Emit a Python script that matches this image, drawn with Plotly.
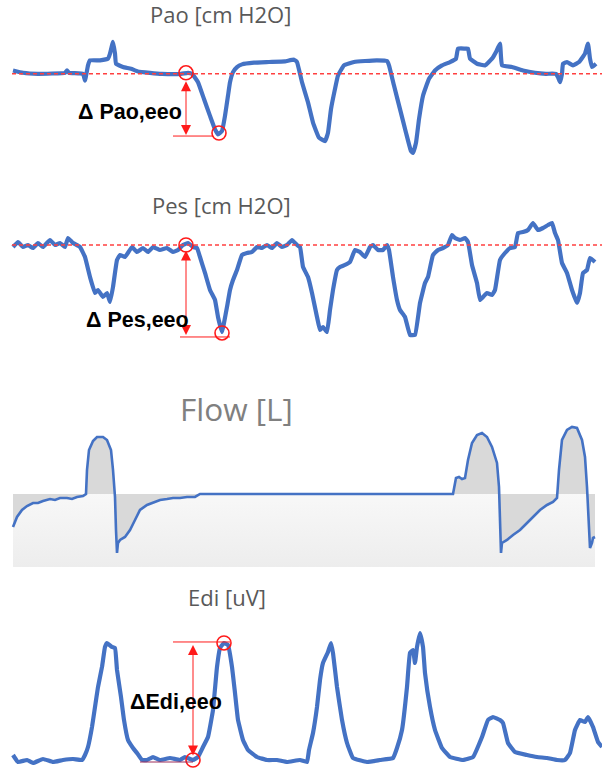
import plotly.graph_objects as go

# ---------------- data (time in samples, values in signal units) ----------------
t_pao = [13, 23, 38, 65, 67, 69, 83, 85, 88, 90, 100, 108, 110, 113, 115, 116, 123, 131, 138, 150,
         162, 181, 188, 192, 198, 204, 210, 215, 218, 222, 225, 228, 230, 233, 237, 242, 254, 269, 285,
         294, 297, 302, 308, 313, 319, 325, 328, 331, 335, 338, 344, 354, 365, 377, 387, 389, 394, 400,
         406, 411, 413, 416, 419, 423, 429, 435, 442, 450, 456, 458, 465, 468, 470, 477, 485, 492, 496,
         500, 501, 502, 512, 523, 535, 546, 556, 558, 560, 562, 563, 567, 573, 579, 585, 588, 590, 592, 596]
v_pao = [0.5, 0.15, 0, 0.15, 0.5, 0.15, 0, -1, 1.25, 2, 2, 2.25, 3, 4.75, 3, 1.5, 1, 0.75, 0.35, 0.15,
         0, 0, 0.15, 0, -1.25, -3.75, -6.25, -8.25, -9, -8.5, -6.25, -3.25, -1.25, 0.25, 1, 1.4, 1.65, 1.75, 1.85,
         2.1, 1.75, -1.25, -4.25, -7.25, -9.5, -10, -8.75, -5.25, -2.25, -0.25, 1.25, 1.75, 1.9, 2, 1.9, 1.25, -1.75, -5.25,
         -8.75, -11.5, -11.75, -10.25, -6.75, -3.25, -0.75, 0.5, 1.25, 1.75, 2.25, 3.75, 3.75, 3.75, 2.25, 1.5, 1.25, 2.25, 3.25,
         4.5, 2.5, 1.25, 1, 0.5, 0.15, 0, 0, -0.5, -1.25, 0, 1.5, 1.75, 1.25, 1.75, 3, 4.5, 2.25, 1, 1.5]

t_pes = [13, 18, 23, 28, 33, 38, 43, 50, 55, 60, 65, 68, 73, 80, 85, 90, 95, 98, 103, 107, 110, 113, 117,
         120, 125, 132, 137, 143, 148, 153, 160, 167, 173, 178, 183, 188, 193, 197, 200, 205, 210, 215, 218,
         222, 224, 227, 230, 233, 237, 242, 247, 252, 257, 262, 267, 272, 277, 282, 287, 292, 297, 300, 303,
         308, 312, 317, 320, 323, 327, 330, 333, 337, 340, 345, 350, 355, 360, 365, 370, 373, 378, 383, 387,
         389, 393, 397, 400, 405, 410, 415, 420, 425, 428, 433, 438, 443, 448, 452, 455, 460, 465, 468, 472,
         477, 480, 483, 487, 492, 495, 500, 505, 510, 515, 518, 523, 528, 533, 538, 543, 548, 552, 555, 558,
         562, 567, 572, 577, 580, 583, 587, 590, 595]
v_pes = [-0.4, 0.6, -0.4, 0, -0.6, 0.4, -0.4, 1.0, 0, 0.4, -0.4, 1.4, 0.4, -0.4, -2.4, -6.4, -9.6, -9.0, -10.4, -9.6, -11.4, -8.4, -3.0,
         -2.0, -2.4, -0.4, -1.4, -0.6, -1.4, -0.4, -1.0, -0.6, -1.4, -1.0, 0, 0.4, -0.4, -0.6, -2.4, -5.6, -9.0, -11.0, -14.4,
         -17.4, -15.6, -12.4, -9.0, -7.0, -5.0, -2.0, -1.6, -1.4, -0.4, -0.6, 0, -0.6, 0.4, -0.4, 0, 1.0, 0, -0.4, -4.4,
         -6.4, -9.6, -14.4, -17.0, -16.4, -17.4, -13.0, -9.0, -5.0, -4.4, -4.0, -3.4, -1.0, -1.4, -2.4, -0.4, 0, -1.0, -1.0, 0,
         -1.0, -6.4, -11.0, -13.0, -14.4, -18.0, -18.0, -11.6, -7.6, -6.4, -2.0, -1.0, -0.6, 0, 2.0, 1.4, 1.0, 1.4, 0.6, -4.0,
         -7.6, -11.0, -10.4, -9.6, -10.0, -9.0, -3.0, -1.6, -0.6, -0.4, 2.4, 2.6, 3.0, 4.4, 3.0, 3.4, 4.0, 4.4, 2.4, 1.0,
         -3.6, -5.6, -9.0, -11.6, -9.6, -5.6, -5.0, -2.6, -3.4]

t_flow = [13, 17, 22, 27, 33, 38, 43, 50, 55, 60, 67, 72, 77, 83, 86, 87, 89, 93, 97, 103, 107, 111, 113,
          115, 116, 117, 118, 120, 125, 130, 135, 140, 147, 153, 160, 167, 173, 180, 187, 195, 200, 453,
          454, 456, 459, 462, 465, 468, 472, 477, 482, 487, 492, 497, 499, 500, 501, 502, 507, 513, 520,
          527, 533, 540, 547, 553, 557, 559, 562, 567, 572, 577, 582, 585, 587, 589, 590, 592, 593, 595]
v_flow = [-0.66, -0.46, -0.32, -0.24, -0.18, -0.18, -0.14, -0.10, -0.12, -0.08, -0.08, -0.10, -0.06, -0.04, 0, 0.48, 0.88, 1.06, 1.14, 1.14, 1.08, 0.88, 0.48,
          -0.06, -0.72, -1.18, -0.98, -0.92, -0.86, -0.72, -0.52, -0.32, -0.22, -0.18, -0.12, -0.10, -0.08, -0.08, -0.06, -0.06, 0, 0,
          0.14, 0.32, 0.34, 0.30, 0.32, 0.68, 1.02, 1.18, 1.22, 1.14, 0.94, 0.62, 0.14, -0.52, -1.18, -0.98, -0.92, -0.82, -0.72,
          -0.58, -0.46, -0.32, -0.22, -0.16, -0.08, 0.48, 1.08, 1.28, 1.34, 1.32, 1.08, 0.74, 0.14, -0.52, -1.08, -0.98, -0.88, -0.86]

t_edi = [13, 18, 27, 33, 43, 53, 63, 73, 82, 85, 88, 92, 95, 98, 102, 105, 107, 112, 115, 117, 121, 124, 128,
         133, 137, 142, 147, 153, 160, 170, 180, 185, 193, 198, 203, 208, 213, 217, 220, 224, 228, 232, 235,
         238, 243, 248, 257, 267, 277, 287, 300, 307, 309, 313, 317, 320, 323, 328, 331, 333, 337, 342, 347,
         353, 367, 380, 393, 397, 402, 407, 410, 413, 415, 417, 420, 423, 425, 430, 435, 442, 450, 463, 473,
         482, 488, 493, 500, 503, 508, 515, 527, 537, 547, 557, 565, 570, 575, 580, 585, 588, 593, 598, 602]
v_edi = [1.0, -0.4, 0, -0.6, 0.2, -0.4, 0, 0.2, 0, 1.0, 2.6, 6.6, 10.6, 14.6, 18.6, 22.6, 23.4, 22.6, 22.4, 18.0, 12.6, 8.0, 4.0,
         2.4, 1.4, 0, 0, 0.6, 0, 0.4, 0, 0.6, 0, 0.6, 2.6, 4.6, 10.0, 18.6, 22.4, 23.4, 23.0, 18.6, 13.4,
         8.0, 4.0, 2.0, 0.6, 0, 0, -0.4, 0, -0.4, 2.0, 5.4, 10.6, 16.0, 19.4, 21.6, 23.4, 21.4, 14.6, 8.0, 3.4,
         0.4, -0.4, 0, 0.4, 2.4, 6.0, 14.6, 21.4, 22.0, 19.4, 22.6, 25.4, 22.6, 17.4, 10.6, 6.0, 2.4, 0.6, 0, 0.6,
         4.6, 8.0, 8.6, 8.0, 7.4, 3.4, 1.6, 1.0, 0.6, 0.4, 0, 0, 1.4, 6.0, 8.0, 7.6, 8.6, 6.6, 3.6, 2.6]

titles = ["Pao [cm H2O]", "Pes [cm H2O]", "Flow [L]", "Edi [uV]"]
labels = ["\u0394 Pao,eeo", "\u0394 Pes,eeo", "\u0394Edi,eeo"]

# reference points of the end-expiratory occlusion measurements (t, value)
pao_eeo = [(186, 0.15), (219, -8.8)]
pes_eeo = [(186, 0.0), (222, -17.6)]
edi_eeo = [(193, 0.0), (224, 23.4)]

# ---------------- figure ----------------
BLUE = "#4472C4"
RED = "#ff1a1a"
fig = go.Figure()

# flow background band below the zero-flow line
fig.add_trace(go.Scatter(x=[13, 595, 595, 13, 13], y=[0, 0, -1.46, -1.46, 0], mode="lines",
                         line=dict(width=0), fill="toself",
                         fillgradient=dict(type="vertical", colorscale=[[0, "#ededed"], [1, "#f8f8f8"]]),
                         hoverinfo="skip", xaxis="x3", yaxis="y3", showlegend=False))

line_main = dict(color=BLUE, width=4.2, shape="spline", smoothing=0.3)
fig.add_trace(go.Scatter(x=t_pao, y=v_pao, mode="lines", line=line_main,
                         xaxis="x", yaxis="y", showlegend=False))
fig.add_trace(go.Scatter(x=t_pes, y=v_pes, mode="lines", line=line_main,
                         xaxis="x2", yaxis="y2", showlegend=False))
fig.add_trace(go.Scatter(x=t_flow, y=v_flow, mode="lines", line=dict(color=BLUE, width=2.6),
                         fill="tozeroy", fillcolor="#d9d9d9",
                         xaxis="x3", yaxis="y3", showlegend=False))
fig.add_trace(go.Scatter(x=t_edi, y=v_edi, mode="lines", line=line_main,
                         xaxis="x4", yaxis="y4", showlegend=False))

shapes = []
annos = []

# dotted baselines
for ax in ["", "2"]:
    shapes.append(dict(type="line", xref="x" + ax, yref="y" + ax, x0=12, x1=602, y0=0, y1=0,
                       line=dict(color="#ff4040", width=1.5, dash="4px,3px")))

def circle(xr, yr, cx, cy):
    return dict(type="circle", xref=xr, yref=yr, xsizemode="pixel", ysizemode="pixel",
                xanchor=cx, yanchor=cy, x0=-7, x1=7, y0=-7, y1=7,
                line=dict(color=RED, width=1.6))

def arrow(xr, yr, x, y0, y1):
    return dict(xref=xr, yref=yr, axref=xr, ayref=yr, x=x, y=y1, ax=x, ay=y0, text="",
                showarrow=True, arrowhead=2, startarrowhead=2, arrowside="end+start",
                arrowsize=2, startarrowsize=2, arrowwidth=1, arrowcolor=RED)

LBL_FONT = dict(family="Liberation Sans", size=21.5, color="black")
# Pao
for p in pao_eeo:
    shapes.append(circle("x", "y", p[0], p[1]))
shapes.append(dict(type="line", xref="x", yref="y", x0=173, x1=213, y0=-9.25, y1=-9.25,
                   line=dict(color=RED, width=1)))
annos.append(arrow("x", "y", 186, -0.9, -9.1))
annos.append(dict(xref="x", yref="y", x=130, y=-5.65, text="<b>" + labels[0] + "</b>", showarrow=False,
                  font=LBL_FONT))
# Pes
for p in pes_eeo:
    shapes.append(circle("x2", "y2", p[0], p[1]))
shapes.append(dict(type="line", xref="x2", yref="y2", x0=180, x1=230, y0=-18.4, y1=-18.4,
                   line=dict(color=RED, width=1)))
annos.append(arrow("x2", "y2", 186, -0.8, -18.0))
annos.append(dict(xref="x2", yref="y2", x=137, y=-15.0, text="<b>" + labels[1] + "</b>", showarrow=False,
                  font=LBL_FONT))
# Edi
for p in edi_eeo:
    shapes.append(circle("x4", "y4", p[0], p[1]))
shapes.append(dict(type="line", xref="x4", yref="y4", x0=173, x1=230, y0=23.6, y1=23.6,
                   line=dict(color=RED, width=1)))
shapes.append(dict(type="line", xref="x4", yref="y4", x0=140, x1=193, y0=-0.4, y1=-0.4,
                   line=dict(color="#9b2d5a", width=1.2)))
annos.append(arrow("x4", "y4", 193, 0.6, 23.0))
annos.append(dict(xref="x4", yref="y4", x=176, y=11.6, text="<b>" + labels[2] + "</b>", showarrow=False,
                  font=LBL_FONT))

# titles
title_pos = [(220, 14, 22, "#595959"), (222, 205, 22, "#595959"), (236, 408, 31.5, "#808080"), (227, 597, 22, "#595959")]
for txt, (px, py, fs, col) in zip(titles, title_pos):
    annos.append(dict(xref="paper", yref="paper", x=px / 602, y=1 - py / 771, xanchor="center", yanchor="middle",
                      text=txt, showarrow=False, font=dict(family="Open Sans", size=fs, color=col)))

ax_common = dict(visible=False, showgrid=False, zeroline=False, fixedrange=True)
fig.update_layout(
    width=602, height=771, margin=dict(l=0, r=0, t=0, b=0),
    paper_bgcolor="white", plot_bgcolor="white", showlegend=False,
    xaxis=dict(domain=[0, 1], range=[0, 602], anchor="y", **ax_common),
    xaxis2=dict(domain=[0, 1], range=[0, 602], anchor="y2", **ax_common),
    xaxis3=dict(domain=[0, 1], range=[0, 602], anchor="y3", **ax_common),
    xaxis4=dict(domain=[0, 1], range=[0, 602], anchor="y4", **ax_common),
    yaxis=dict(domain=[0.7821, 0.9741], range=[-14, 8], anchor="x", **ax_common),
    yaxis2=dict(domain=[0.5396, 0.7341], range=[-22, 8], anchor="x2", **ax_common),
    yaxis3=dict(domain=[0.2646, 0.4553], range=[-1.46, 1.48], anchor="x3", **ax_common),
    yaxis4=dict(domain=[0.0013, 0.1829], range=[-2, 26], anchor="x4", **ax_common),
    shapes=shapes, annotations=annos,
)

fig.write_html("out.html", config={"displayModeBar": False},
               post_script="document.body.style.margin='0';document.body.style.overflow='hidden';")
